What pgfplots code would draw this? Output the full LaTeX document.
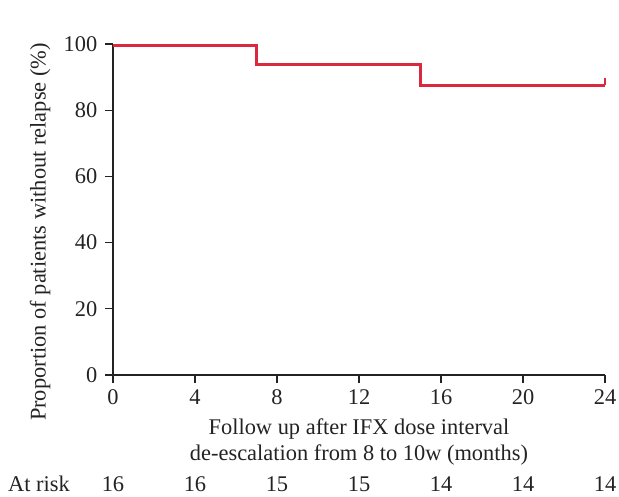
\documentclass[border=0pt]{standalone}
\usepackage{fontspec}
\setmainfont{Liberation Serif}
\usepackage{pgfplots}
\pgfplotsset{compat=1.18}
\definecolor{kmred}{RGB}{218,40,62}
\definecolor{axgray}{RGB}{35,35,35}
\begin{document}
\fontsize{22.5}{23}\selectfont
\begin{tikzpicture}
\begin{axis}[
  scale only axis, width=492bp, height=331bp,
  xmin=0, xmax=24, ymin=0, ymax=100,
  axis x line*=bottom, axis y line*=left,
  axis line style={-, axgray, line width=1.1bp},
  xtick={0,4,8,12,16,20,24}, ytick={0,20,40,60,80,100},
  tick align=outside, major tick length=8bp,
  tick style={axgray, line width=1.1bp},
  /pgf/number format/assume math mode=true,
  tick label style={font=\fontsize{22.5}{23}\selectfont, text=axgray},
  xticklabel style={yshift=1bp, inner xsep=0pt},
  xlabel={Follow up after IFX dose interval\\de-escalation from 8 to 10w (months)},
  xlabel style={font=\fontsize{22.5}{26}\selectfont, text=axgray, align=center,
    at={(axis description cs:0.5,0)}, anchor=north, yshift=-36bp},
  ylabel={Proportion of patients without relapse (\%)},
  ylabel style={font=\fontsize{22.5}{23}\selectfont, text=axgray,
    at={(axis description cs:0,0.432)}, anchor=center, yshift=73bp},
  clip=false,
]
\addplot[kmred, line width=2.4bp, const plot, line join=miter] coordinates {(0,99.6) (7,93.75) (15,87.5) (24,87.5)};
\addplot[kmred, line width=2.4bp] coordinates {(24,87.5) (24,89.8)};
\path (axis cs:0,0) ++(-105bp,-116bp) node[anchor=base west, inner sep=0pt, text=axgray] {At risk};
\path (axis cs:0,0) ++(0,-116bp) node[anchor=base, inner sep=0pt, text=axgray] {16};
\path (axis cs:4,0) ++(0,-116bp) node[anchor=base, inner sep=0pt, text=axgray] {16};
\path (axis cs:8,0) ++(0,-116bp) node[anchor=base, inner sep=0pt, text=axgray] {15};
\path (axis cs:12,0) ++(0,-116bp) node[anchor=base, inner sep=0pt, text=axgray] {15};
\path (axis cs:16,0) ++(0,-116bp) node[anchor=base, inner sep=0pt, text=axgray] {14};
\path (axis cs:20,0) ++(0,-116bp) node[anchor=base, inner sep=0pt, text=axgray] {14};
\path (axis cs:24,0) ++(0,-116bp) node[anchor=base, inner sep=0pt, text=axgray] {14};
\path (axis cs:0,0) ++(-113bp,-122bp) coordinate (bbA);
\path (axis cs:24,100) ++(14bp,44bp) coordinate (bbB);
\end{axis}
\end{tikzpicture}
\end{document}
